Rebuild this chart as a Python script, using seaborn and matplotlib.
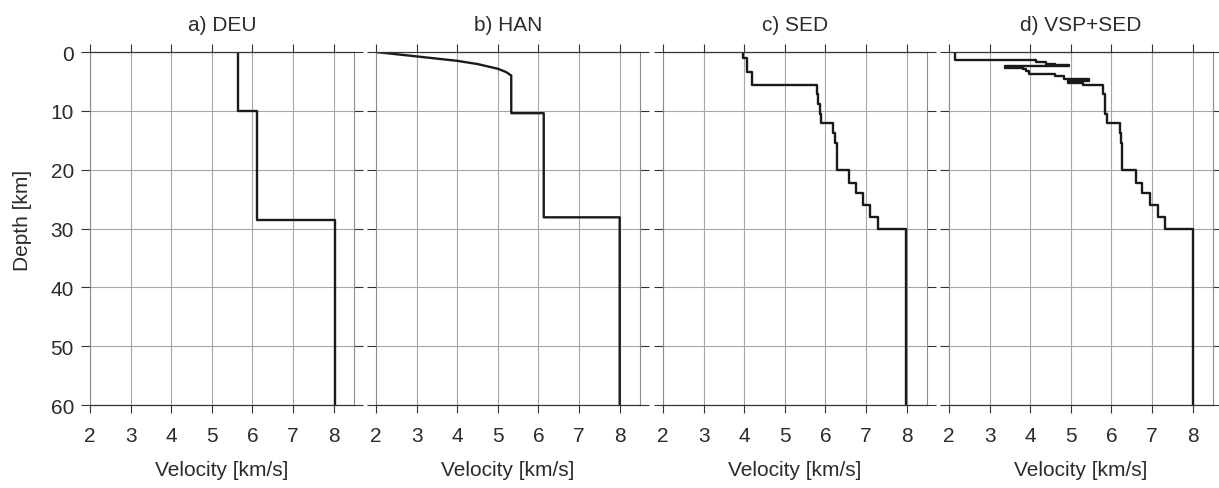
import numpy as np
import pandas as pd
import matplotlib
matplotlib.use("Agg")
import matplotlib.pyplot as plt
import seaborn as sns

# ---------------- data ----------------
titles = ["a) DEU", "b) HAN", "c) SED", "d) VSP+SED"]
x_ticks = [2, 3, 4, 5, 6, 7, 8]
y_ticks = [0, 10, 20, 30, 40, 50, 60]
x_label = "Velocity [km/s]"
y_label = "Depth [km]"
max_depth = 60.0

# layer top depths (km) and layer velocities (km/s)
deu_tops = [0.0, 10.0, 28.5]
deu_vel = [5.65, 6.12, 8.02]

# HAN: gradient at the top, then layers
han_grad_vel = [2.0, 3.0, 4.0, 4.5, 5.0, 5.2, 5.33]
han_grad_depth = [0.0, 0.75, 1.5, 2.05, 2.85, 3.4, 4.0]
han_tops = [4.0, 10.4, 28.1]
han_vel = [5.33, 6.13, 8.0]

sed_tops = [0.0, 1.08, 3.34, 5.6, 7.1, 8.84, 10.5, 12.07, 13.7, 15.4,
            20.07, 22.2, 24.0, 26.0, 28.1, 30.1]
sed_vel = [3.98, 4.08, 4.18, 5.78, 5.82, 5.86, 5.89, 6.19, 6.23, 6.28,
           6.58, 6.76, 6.93, 7.1, 7.29, 7.99]

vsp_tops = [0.0, 1.42, 1.7, 1.98, 2.15, 2.4, 2.66, 2.95, 3.3, 3.7, 4.1,
            4.65, 5.0, 5.3, 5.6, 7.1, 8.8, 10.5, 12.07, 13.7, 15.4,
            20.07, 22.2, 24.0, 26.0, 28.1, 30.1]
vsp_vel = [2.15, 4.15, 4.39, 4.6, 4.96, 3.37, 3.82, 3.9, 3.98, 4.6, 4.84,
           5.45, 4.92, 5.3, 5.79, 5.83, 5.85, 5.88, 6.2, 6.23, 6.27,
           6.6, 6.76, 6.94, 7.15, 7.31, 8.0]


def staircase(tops, vel, bottom, pre_v=None, pre_d=None):
    v, d = [], []
    if pre_v is not None:
        v += list(pre_v)
        d += list(pre_d)
    bounds = list(tops[1:]) + [bottom]
    for i, vi in enumerate(vel):
        v += [vi, vi]
        d += [tops[i], bounds[i]]
    return pd.DataFrame({"Velocity": v, "Depth": d})


profiles = [
    staircase(deu_tops, deu_vel, max_depth),
    staircase(han_tops, han_vel, max_depth, han_grad_vel, han_grad_depth),
    staircase(sed_tops, sed_vel, max_depth),
    staircase(vsp_tops, vsp_vel, max_depth),
]

# ---------------- style ----------------
sns.set_theme(style="white")
plt.rcParams["font.family"] = ["Liberation Sans", "DejaVu Sans"]
text_col = "#2b2b2b"
grid_col = "#a6a6a6"
side_col = "#8c8c8c"
dark_col = "#333333"
FS = 15

fig = plt.figure(figsize=(12.19, 4.89), dpi=100)
W, H = 1219.0, 489.0
lefts = [90, 376, 663, 949]
ax_w = 264
top_px, bot_px = 53, 406

for i, (df, title) in enumerate(zip(profiles, titles)):
    ax = fig.add_axes([lefts[i] / W, 1 - bot_px / H, ax_w / W, (bot_px - top_px) / H])
    ax.set_axisbelow(True)
    ax.grid(True, color=grid_col, lw=0.8)
    sns.lineplot(data=df, x="Velocity", y="Depth", sort=False, estimator=None,
                 color="#1a1a1a", lw=1.7, ax=ax, legend=False)
    ax.set_xlim(2, 8.5)
    ax.set_ylim(max_depth, 0)
    ax.set_xticks(x_ticks)
    ax.set_xticklabels([str(t) for t in x_ticks])
    ax.set_yticks(y_ticks)
    ax.set_yticklabels([str(t) for t in y_ticks])
    ax.tick_params(axis="x", which="both", top=True, bottom=True, direction="out",
                   length=6, width=0.8, color=dark_col, labelsize=FS,
                   labelcolor=text_col, pad=9)
    ax.tick_params(axis="y", which="both", left=True, right=True, direction="out",
                   length=6.5, width=0.8, color=dark_col, labelsize=FS,
                   labelcolor=text_col, pad=5, labelleft=(i == 0))
    for s in ["top", "bottom"]:
        ax.spines[s].set_color(dark_col)
        ax.spines[s].set_linewidth(0.9)
    for s in ["left", "right"]:
        ax.spines[s].set_color(side_col)
        ax.spines[s].set_linewidth(0.8)
    ax.set_xlabel(x_label, fontsize=FS, color=text_col, labelpad=11)
    if i == 0:
        ax.set_ylabel(y_label, fontsize=FS, color=text_col)
        ax.yaxis.set_label_coords(-0.22, 0.527)
    else:
        ax.set_ylabel("")
    ax.set_title(title, fontsize=FS, color=text_col, pad=16)

fig.savefig("out.png", dpi=100)
